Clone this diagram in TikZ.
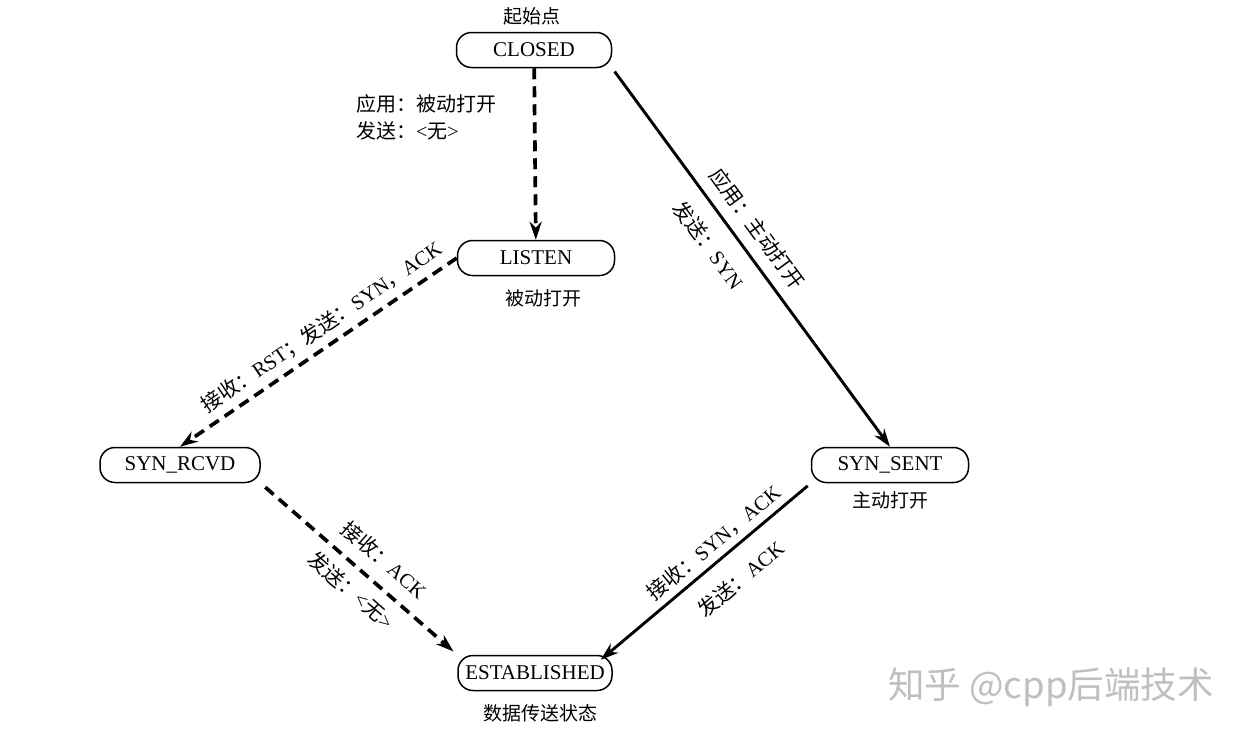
\documentclass[tikz,border=0pt]{standalone}
\usepackage{fontspec}
\setmainfont{Liberation Serif}
\newfontfamily\cjk{Noto Sans CJK SC}
\usetikzlibrary{arrows.meta}
\newcommand\zh[1]{{\cjk #1}}
\begin{document}
\begin{tikzpicture}[x=1pt,y=-1pt,
 state/.style={draw, line width=1.5pt, rounded corners=15pt, minimum width=155pt, minimum height=35pt, inner sep=0pt, font=\fontsize{21}{24}\selectfont},
 captext/.style={font=\cjk\fontsize{19}{22}\selectfont},
 lab/.style={font=\fontsize{20.5}{24}\selectfont, sloped, inner sep=2pt},
 solidedge/.style={line width=2.9pt, -{Stealth[length=18pt,width=12pt]}},
 dashedge/.style={line width=3.7pt, dash pattern=on 11pt off 7pt, -{Stealth[length=18pt,width=12pt]}}]
\fill[white] (0,0) rectangle (1248,740);
\useasboundingbox (0,0) rectangle (1248,740);

\node[state] (closed) at (534,50) {CLOSED};
\node[state, minimum width=157pt] (listen) at (536,258) {LISTEN};
\node[state, minimum width=160pt] (synrcvd) at (180,465) {SYN\_RCVD};
\node[state, minimum width=157pt] (synsent) at (890,465) {SYN\_SENT};
\node[state, minimum width=154pt] (est) at (535,673) {ESTABLISHED};

\node[captext] (c1) at (532,16) {起始点};
\node[captext] (c2) at (543,298) {被动打开};
\node[captext] (c3) at (890,500) {主动打开};
\node[captext] (c4) at (540,713) {数据传送状态};

\node[anchor=west, align=left, font=\fontsize{20}{27}\selectfont, inner sep=0pt] (l1) at (356,117) {\zh{应用：被动打开}\\\zh{发送：}<\zh{无}>};

\draw[dashedge] (closed) -- (listen);
\draw[solidedge, shorten <=4pt] (closed.south east) -- (synsent.north)
  node[lab, pos=0.458, above=9pt] (l2a) {\zh{应用：主动打开}}
  node[lab, pos=0.425, below=14pt] (l2b) {\zh{发送：}SYN};
\draw[dashedge] (listen.west) -- (synrcvd.north)
  node[lab, pos=0.45, above=5pt] (l3) {\zh{接收：}RST\zh{；发送：}SYN\zh{，}ACK};
\draw[dashedge, shorten <=6pt, shorten >=5pt] (synrcvd.south east) -- (est.north west)
  node[lab, pos=0.55, above=10pt] (l4a) {\zh{接收：}ACK}
  node[lab, pos=0.53, below=8pt] (l4b) {\zh{发送：}<\zh{无}>};
\draw[solidedge, shorten <=4pt] (synsent.south west) -- ([xshift=-12pt,yshift=-5pt]est.north east)
  node[lab, pos=0.41, above=4pt] (l5a) {\zh{接收：}SYN\zh{，}ACK}
  node[lab, pos=0.42, below=15pt] (l5b) {\zh{发送：}ACK};

\node[font=\cjk\fontsize{36.5}{40}\selectfont, text=black!25] (wm) at (1051,687) {知乎 @cpp后端技术};
\end{tikzpicture}
\end{document}
